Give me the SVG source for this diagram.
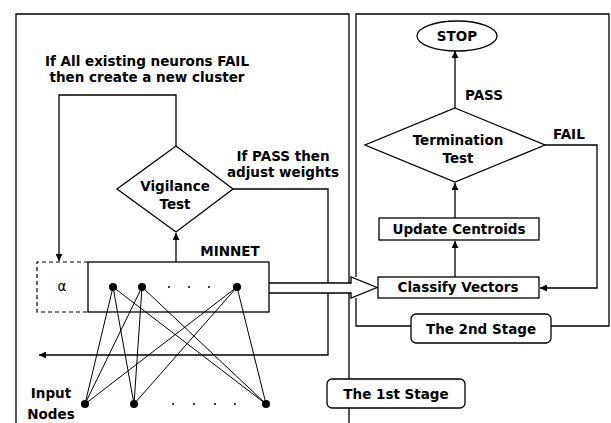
<svg xmlns="http://www.w3.org/2000/svg" width="611" height="423" viewBox="0 0 611 423">
<style>
text{font-family:"DejaVu Sans","Liberation Sans",sans-serif;font-size:13.5px;font-weight:bold;fill:#000;}
.c{text-anchor:middle;}
.ln{fill:none;stroke:#000;stroke-width:1.3;}
.sh{fill:#fff;stroke:#000;stroke-width:1.3;}
.thin{stroke:#000;stroke-width:1;}
.dash{fill:none;stroke:#000;stroke-width:1.2;stroke-dasharray:4 3;}
</style>
<defs>
<marker id="ah" viewBox="0 0 10 10" refX="10" refY="5" markerWidth="7" markerHeight="7" markerUnits="userSpaceOnUse" orient="auto">
<path d="M0,0 L10,5 L0,10 z" fill="#000"/>
</marker>
</defs>

<g id="stage1-panel">
<path class="ln" d="M16,423 V14 H349 V423"/>
</g>
<g id="stage2-panel">
<path class="ln" d="M356,277 V14 H609 V326 H551 M411,326 H356 V298"/>
</g>

<g id="connectors">
<path class="ln" d="M176,146 V95 H59 V261" marker-end="url(#ah)"/>
<path class="ln" d="M176,262 V233" marker-end="url(#ah)"/>
<path class="ln" d="M233,189 H328 V355 H39" marker-end="url(#ah)"/>
<path class="ln" d="M455,108 V51" marker-end="url(#ah)"/>
<path class="ln" d="M455,218 V183" marker-end="url(#ah)"/>
<path class="ln" d="M455,277 V241" marker-end="url(#ah)"/>
<path class="ln" d="M545,145 H597 V288 H540" marker-end="url(#ah)"/>
<g id="weights">
<line class="thin" x1="113" y1="287" x2="85" y2="404"/>
<line class="thin" x1="113" y1="287" x2="134" y2="404"/>
<line class="thin" x1="113" y1="287" x2="266" y2="404"/>
<line class="thin" x1="142" y1="287" x2="85" y2="404"/>
<line class="thin" x1="142" y1="287" x2="134" y2="404"/>
<line class="thin" x1="142" y1="287" x2="266" y2="404"/>
<line class="thin" x1="237" y1="287" x2="85" y2="404"/>
<line class="thin" x1="237" y1="287" x2="134" y2="404"/>
<line class="thin" x1="237" y1="287" x2="266" y2="404"/>
</g>
<path id="big-arrow" class="sh" d="M269,283 H351 V277 L377,287.5 L351,298 V293 H269"/>
</g>

<g id="label-fail-all">
<text class="c" x="147" y="66">If All existing neurons FAIL</text>
<text class="c" x="147" y="82">then create a new cluster</text>
</g>
<g id="label-pass-adjust">
<text class="c" x="283" y="161">If PASS then</text>
<text class="c" x="283" y="177">adjust weights</text>
</g>

<g id="vigilance">
<path class="sh" d="M176,146 L233,189 L176,232 L117,189 z"/>
<text class="c" x="175" y="191">Vigilance</text>
<text class="c" x="175" y="209">Test</text>
</g>

<g id="new-neuron">
<path class="dash" d="M88,262 H37 V312 H88"/>
<text class="c" x="62" y="291" style="font-weight:normal">α</text>
</g>

<g id="minnet">
<rect class="ln" x="88" y="262" width="181" height="50"/>
<text class="c" x="230" y="256">MINNET</text>
<circle cx="113" cy="287" r="4"/>
<circle cx="142" cy="287" r="4"/>
<circle cx="169" cy="287" r="1"/>
<circle cx="189" cy="287" r="1"/>
<circle cx="209" cy="287" r="1"/>
<circle cx="237" cy="287" r="4"/>
</g>

<g id="input-nodes">
<circle cx="85" cy="404" r="4"/>
<circle cx="134" cy="404" r="4"/>
<circle cx="173" cy="404" r="1"/>
<circle cx="194" cy="404" r="1"/>
<circle cx="215" cy="404" r="1"/>
<circle cx="235" cy="404" r="1"/>
<circle cx="266" cy="404" r="4"/>
<text class="c" x="51" y="398">Input</text>
<text class="c" x="51" y="419">Nodes</text>
</g>

<g id="stop">
<ellipse class="sh" cx="457" cy="36" rx="40" ry="15"/>
<text class="c" x="457" y="41">STOP</text>
</g>
<text x="465" y="100">PASS</text>
<text x="553" y="139">FAIL</text>

<g id="termination">
<path class="sh" d="M455,108 L545,145 L455,182 L365,145 z"/>
<text class="c" x="458" y="145">Termination</text>
<text class="c" x="458" y="163">Test</text>
</g>

<g id="update">
<rect class="sh" x="379" y="218" width="160" height="22"/>
<text class="c" x="459" y="234">Update Centroids</text>
</g>

<g id="classify">
<rect class="sh" x="378" y="277" width="161" height="21"/>
<text class="c" x="458" y="292">Classify Vectors</text>
</g>

<g id="stage2-label">
<rect class="sh" x="411" y="314" width="140" height="29" rx="5"/>
<text class="c" x="481" y="334">The 2nd Stage</text>
</g>

<g id="stage1-label">
<rect class="sh" x="327" y="379" width="138" height="29" rx="5"/>
<text class="c" x="396" y="399">The 1st Stage</text>
</g>
</svg>
